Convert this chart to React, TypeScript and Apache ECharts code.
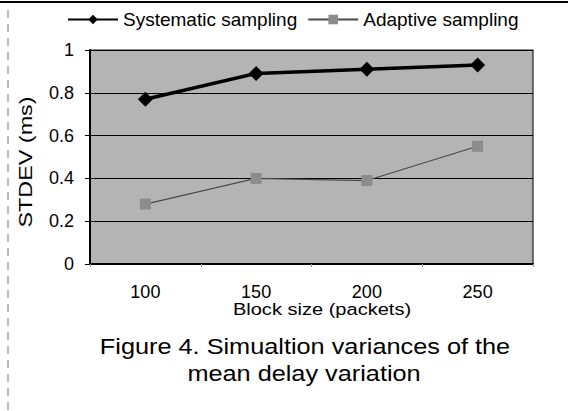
import React, { useEffect, useRef } from "react";
import * as echarts from "echarts";

const categories = ["100", "150", "200", "250"];
const systematic = [0.77, 0.89, 0.91, 0.93];
const adaptive = [0.28, 0.4, 0.39, 0.55];
const yTicks = { min: 0, max: 1, interval: 0.2 };
const seriesNames = ["Systematic sampling", "Adaptive sampling"];
const xAxisTitle = "Block size (packets)";
const yAxisTitle = "STDEV (ms)";
const captionLines = ["Figure 4. Simualtion variances of the", "mean delay variation"];

const FONT = "'Liberation Sans', Arial, sans-serif";

export default function App() {
  const ref = useRef<HTMLDivElement>(null);
  useEffect(() => {
    if (!ref.current) return;
    const chart = echarts.init(ref.current, null, { renderer: "svg" });
    chart.setOption({
      animation: false,
      backgroundColor: "#ffffff",
      textStyle: { fontFamily: FONT },
      legend: {
        top: 5,
        left: 62,
        itemWidth: 50,
        itemHeight: 12,
        itemGap: 10,
        textStyle: { fontSize: 19, color: "#000", fontFamily: FONT },
        data: seriesNames,
      },
      grid: {
        left: 90,
        right: 35,
        top: 50,
        bottom: 147,
        show: true,
        backgroundColor: "#b4b4b4",
        borderColor: "#222",
        borderWidth: 1.2,
      },
      xAxis: {
        type: "category",
        data: categories,
        boundaryGap: true,
        axisLine: { show: true, lineStyle: { color: "#000", width: 2 } },
        axisTick: { show: true, length: 3, lineStyle: { color: "#999" } },
        axisLabel: { fontSize: 18, color: "#000", margin: 19, fontFamily: FONT },
      },
      yAxis: {
        type: "value",
        min: yTicks.min,
        max: yTicks.max,
        interval: yTicks.interval,
        axisLine: { show: true, lineStyle: { color: "#000", width: 2 } },
        axisTick: { show: true, length: 5, lineStyle: { color: "#000" } },
        axisLabel: { fontSize: 18, color: "#000", margin: 16, fontFamily: FONT },
        splitLine: { show: true, lineStyle: { color: "#000", width: 1 } },
      },
      series: [
        {
          name: seriesNames[0],
          type: "line",
          data: systematic,
          symbol: "diamond",
          symbolSize: 15,
          itemStyle: { color: "#000" },
          lineStyle: { color: "#000", width: 3.5 },
          z: 3,
        },
        {
          name: seriesNames[1],
          type: "line",
          data: adaptive,
          symbol: "rect",
          symbolSize: 11,
          itemStyle: { color: "#8c8c8c" },
          lineStyle: { color: "#4a4a4a", width: 1.2 },
          z: 2,
        },
      ],
      graphic: [
        {
          type: "text",
          x: 322,
          y: 309,
          scaleX: 1.18,
          style: {
            text: xAxisTitle,
            fill: "#000",
            font: `17px ${FONT}`,
            align: "center",
            verticalAlign: "middle",
          },
        },
        {
          type: "text",
          x: 26,
          y: 162,
          rotation: Math.PI / 2,
          scaleX: 1.3,
          style: {
            text: yAxisTitle,
            fill: "#000",
            font: `18px ${FONT}`,
            align: "center",
            verticalAlign: "middle",
          },
        },
        {
          type: "text",
          x: 305,
          y: 347,
          scaleX: 1.15,
          style: {
            text: captionLines[0],
            fill: "#000",
            font: `22px ${FONT}`,
            align: "center",
            verticalAlign: "middle",
          },
        },
        {
          type: "text",
          x: 304,
          y: 374,
          scaleX: 1.15,
          style: {
            text: captionLines[1],
            fill: "#000",
            font: `22px ${FONT}`,
            align: "center",
            verticalAlign: "middle",
          },
        },
        {
          type: "line",
          shape: { x1: 0, y1: 2, x2: 568, y2: 2 },
          style: { stroke: "#000", lineWidth: 2 },
        },
        {
          type: "line",
          shape: { x1: 8, y1: 10, x2: 8, y2: 411 },
          style: { stroke: "#777", lineWidth: 1, lineDash: [8, 6] },
        },
      ],
    });
    return () => chart.dispose();
  }, []);
  return (
    <div
      ref={ref}
      style={{ position: "fixed", left: 0, top: 0, width: 568, height: 411 }}
    />
  );
}
